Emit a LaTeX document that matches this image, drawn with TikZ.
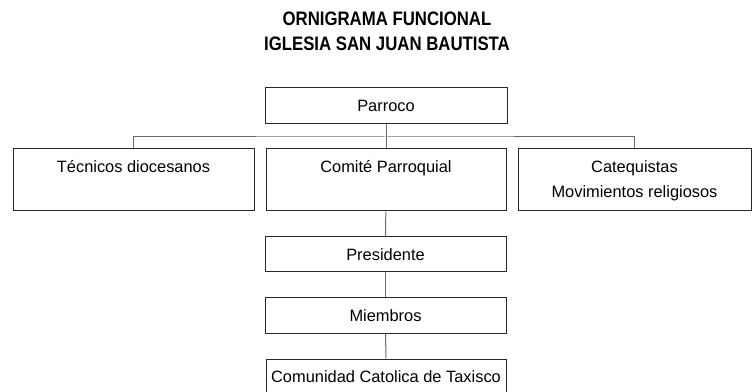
\documentclass[tikz,border=0pt]{standalone}
\usepackage{fontspec}
\setmainfont{Liberation Sans}
\newfontfamily\titlefont[FakeStretch=0.86]{Liberation Sans}
\usepackage{tikz}
\definecolor{myborder}{RGB}{40,40,40}
\definecolor{myline}{RGB}{105,105,105}
\tikzset{
  box/.style={rectangle, draw=myborder, fill=white, align=center,
    inner sep=0pt, line width=1pt, minimum height=35pt,
    font=\fontsize{16.4}{25}\selectfont},
  tallbox/.style={box, minimum height=62pt},
  link/.style={draw=myline, line width=1pt},
  titletext/.style={align=center, font=\titlefont\bfseries\fontsize{19.5}{25}\selectfont}
}

\begin{document}
\begin{tikzpicture}[x=1pt, y=1pt]
  \useasboundingbox (0,0) rectangle (752,391);
  % ── title ──
  \node[titletext] (title) at (387,359.5) {ORNIGRAMA FUNCIONAL\\IGLESIA SAN JUAN BAUTISTA};

  % ── top ──
  \node[box, minimum width=242pt, minimum height=36pt] (parroco) at (386,285) {Parroco};

  % ── second row (y = 180 – 242) ──
  \node[tallbox, minimum width=241pt] (tecnicos) at (133.5,211) {\strut T\'ecnicos diocesanos\\\strut};
  \node[tallbox, minimum width=240pt] (comite)   at (386,211)   {\strut Comit\'e Parroquial\\\strut};
  \node[tallbox, minimum width=233pt] (catequ)   at (634.5,211) {\strut Catequistas\\\strut Movimientos religiosos};

  % ── comite chain ──
  \node[box, minimum width=241pt] (presidente) at (385.5,136.5) {Presidente};
  \node[box, minimum width=241pt] (miembros)   at (385.5,75.5)  {Miembros};
  \node[box, minimum width=240pt] (comunidad)  at (386,14.5)    {Comunidad Catolica de Taxisco};

  % connectors
  \coordinate (bus) at (386,254);
  \draw[link] (parroco) -- (comite);
  \draw[link] (tecnicos.north) |- (bus) -| (catequ.north);
  \draw[link] (comite) -- (presidente);
  \draw[link] (presidente) -- (miembros);
  \draw[link] (miembros) -- (comunidad);
\end{tikzpicture}
\end{document}
